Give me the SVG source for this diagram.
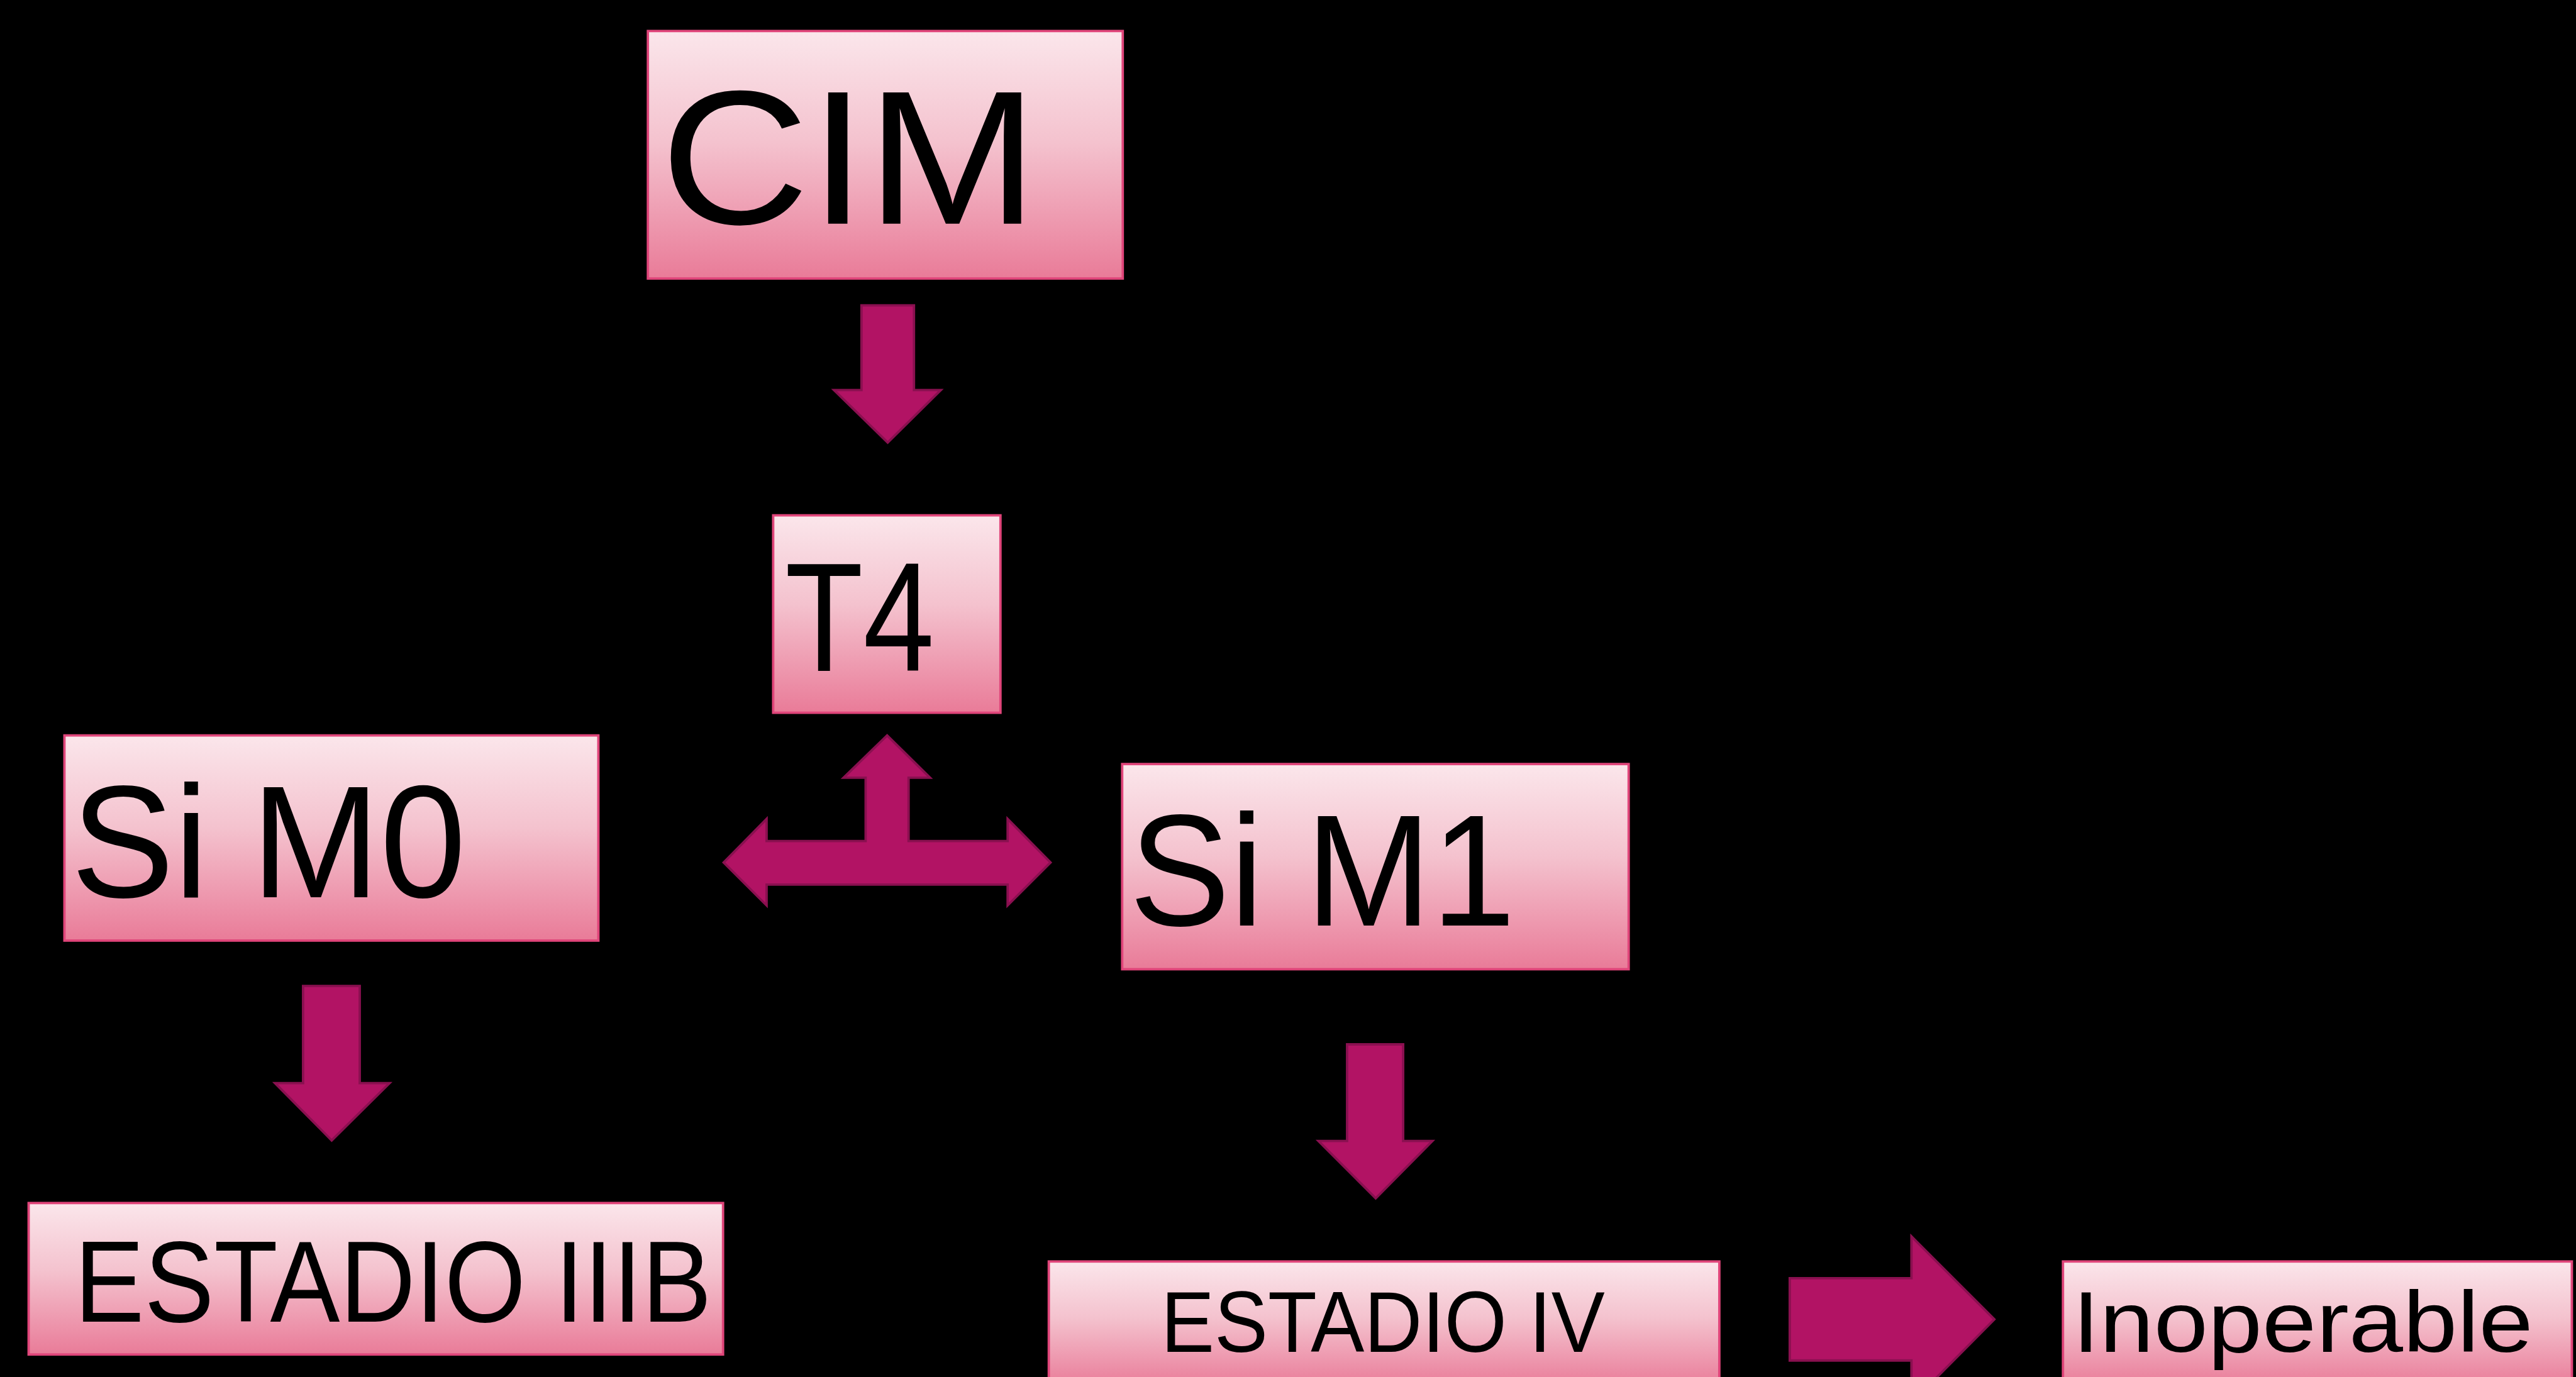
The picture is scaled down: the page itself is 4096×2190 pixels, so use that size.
<svg xmlns="http://www.w3.org/2000/svg" width="4096" height="2190" viewBox="0 0 4096 2190">
  <defs>
    <linearGradient id="boxFill" x1="0" y1="0" x2="0" y2="1">
      <stop offset="0" stop-color="#FBE6EB"/>
      <stop offset="0.45" stop-color="#F4C2CE"/>
      <stop offset="1" stop-color="#E97B98"/>
    </linearGradient>
    <style>
      .box { fill: url(#boxFill); stroke: #E0457A; stroke-width: 4; }
      .arrow { fill: #B21364; stroke: #8A1050; stroke-width: 4; stroke-linejoin: miter; }
      .lbl { font-family: "Century Gothic", "Liberation Sans", Arial, sans-serif; fill: #000; }
      .lbl2 { font-family: "Liberation Sans", Arial, sans-serif; fill: #000; }
    </style>
  </defs>
  <rect x="0" y="0" width="4096" height="2190" fill="#000"/>
  <g transform="scale(0.9486)">
    <g id="connectors">
      <polygon id="arrow-cim-t4" class="arrow" points="1444,512 1532,512 1532,654 1577,654 1488,742 1398,654 1444,654"/>
      <polygon id="arrow-t4-split" class="arrow" points="1487,1233 1559,1304 1523,1304 1523,1410 1689,1410 1689,1373 1761,1446 1689,1518 1689,1483 1285,1483 1285,1518 1213,1446 1285,1373 1285,1410 1451,1410 1451,1304 1414,1304"/>
      <polygon id="arrow-m0-iiib" class="arrow" points="508,1653 603,1653 603,1816 653,1816 556,1912 461,1816 508,1816"/>
      <polygon id="arrow-m1-iv" class="arrow" points="2258,1751 2352,1751 2352,1913 2401,1913 2306,2009 2210,1913 2258,1913"/>
      <polygon id="arrow-iv-inop" class="arrow" points="3000,2143 3204,2143 3204,2073 3343,2212 3204,2352 3204,2281 3000,2281"/>
    </g>
    <g id="node-cim">
      <rect class="box" x="1086" y="52" width="796" height="415"/>
      <text class="lbl" x="1107" y="375" font-size="320" textLength="633" lengthAdjust="spacingAndGlyphs">CIM</text>
    </g>
    <g id="node-t4">
      <rect class="box" x="1296" y="864" width="381" height="331"/>
      <text class="lbl2" x="1316" y="1125" font-size="260" textLength="250" lengthAdjust="spacingAndGlyphs">T4</text>
    </g>
    <g id="node-sim0">
      <rect class="box" x="108" y="1233" width="895" height="344"/>
      <text class="lbl" x="119" y="1504" font-size="268" textLength="662" lengthAdjust="spacingAndGlyphs">Si M0</text>
    </g>
    <g id="node-sim1">
      <rect class="box" x="1881" y="1281" width="849" height="344"/>
      <text class="lbl" x="1893" y="1552" font-size="267" textLength="647" lengthAdjust="spacingAndGlyphs">Si M1</text>
    </g>
    <g id="node-estadio-iiib">
      <rect class="box" x="48" y="2017" width="1164" height="254"/>
      <text class="lbl" x="125" y="2216" font-size="193" textLength="1068" lengthAdjust="spacingAndGlyphs">ESTADIO IIIB</text>
    </g>
    <g id="node-estadio-iv">
      <rect class="box" x="1758" y="2115" width="1124" height="210"/>
      <text class="lbl" x="1946" y="2267" font-size="145" textLength="744" lengthAdjust="spacingAndGlyphs">ESTADIO IV</text>
    </g>
    <g id="node-inoperable">
      <rect class="box" x="3458" y="2115" width="853" height="210"/>
      <text class="lbl" x="3474" y="2267" font-size="145" textLength="772" lengthAdjust="spacingAndGlyphs">Inoperable</text>
    </g>
  </g>
</svg>
